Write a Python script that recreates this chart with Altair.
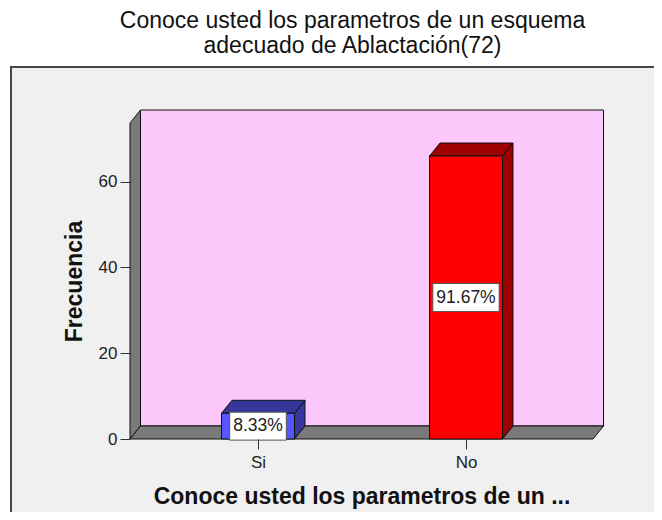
import json
import altair as alt
import pandas as pd

# ---------------- data ----------------
categories = ["Si", "No"]
counts = [6, 66]
percent_labels = ["8.33%", "91.67%"]
y_ticks = [0, 20, 40, 60]

title_lines = ["Conoce usted los parametros de un esquema", "adecuado de Ablactación(72)"]
x_title = "Conoce usted los parametros de un ..."
y_title = "Frecuencia"

# ---------------- styles ----------------
front_colors = ["#5656ff", "#ff0000"]
dark_colors = ["#35369c", "#9c0000"]
wall_color = "#7a7a7a"
back_color = "#fcc8fc"
FONT = "Liberation Sans"

# ---------------- geometry ----------------
W, H = 463, 316
Y_MAX = 73.7
PX_PER_Y = H / Y_MAX
STEP = 208.0                      # px between category centres
X_MIN = -128.0 / STEP
X_MAX = X_MIN + W / STEP
DX, DY = 10.5, 13.0               # 3-D depth in px
dxu, dyu = DX / STEP, DY / PX_PER_Y
HALF = 36.5 / STEP                # half bar width
LBL_FS = 17.5
BOX_H = 14.0 / PX_PER_Y

xs = alt.Scale(domain=[X_MIN, X_MAX], nice=False, zero=False)
ys = alt.Scale(domain=[0, Y_MAX], nice=False, zero=False)

x_axis = alt.Axis(values=[0, 1], labelExpr=f"{json.dumps(categories)}[datum.value]",
                  title=x_title, domain=False, grid=False, tickSize=10, tickColor="#333333",
                  labelFont=FONT, labelFontSize=17, labelColor="#222222", labelPadding=5,
                  labelOverlap=False, titleFont=FONT, titleFontSize=23, titleFontWeight="bold",
                  titleColor="#111111", titlePadding=15, zindex=1)
y_axis = alt.Axis(values=y_ticks, title=y_title, domain=False, grid=False, tickSize=10,
                  tickColor="#333333", labelFont=FONT, labelFontSize=17, labelColor="#222222",
                  labelPadding=3, titleFont=FONT, titleFontSize=23, titleFontWeight="bold",
                  titleColor="#111111", titlePadding=12, zindex=1)

X = alt.X("x:Q", scale=xs, axis=x_axis)
X2 = alt.X2("x2:Q")
Y = alt.Y("y:Q", scale=ys, axis=y_axis)
Y2 = alt.Y2("y2:Q")

one = pd.DataFrame({"a": [0]})

frame = alt.Chart(one).mark_rect(fill="#f0f0f0", stroke="#474747", strokeWidth=2).encode(
    x=alt.value(-119), x2=alt.value(W + 300), y=alt.value(-56), y2=alt.value(H + 300))

back = alt.Chart(one).mark_rect(fill=back_color, stroke="#111111", strokeWidth=1).encode(
    x=alt.value(DX), x2=alt.value(W + DX), y=alt.value(-DY), y2=alt.value(H - DY))

left_wall_df = pd.DataFrame({"x": [X_MIN, X_MIN + dxu], "y": [Y_MAX, Y_MAX + dyu], "y2": [0, dyu]})
left_wall = alt.Chart(left_wall_df).mark_area(orient="vertical", fill=wall_color, stroke="#111111",
                                              strokeWidth=1, opacity=1).encode(x=X, y=Y, y2=Y2)

floor_df = pd.DataFrame({"y": [0, dyu], "x": [X_MIN, X_MIN + dxu], "x2": [X_MAX, X_MAX + dxu]})
floor = alt.Chart(floor_df).mark_area(orient="horizontal", fill=wall_color, stroke="#111111",
                                      strokeWidth=1, opacity=1).encode(y=Y, x=X, x2=X2)

side_rows, top_rows, front_rows, box_rows = [], [], [], []
for i, (c, v, lab) in enumerate(zip(categories, counts, percent_labels)):
    side_rows += [{"cat": c, "x": i + HALF, "y": v, "y2": 0, "fill": dark_colors[i]},
                  {"cat": c, "x": i + HALF + dxu, "y": v + dyu, "y2": dyu, "fill": dark_colors[i]}]
    top_rows += [{"cat": c, "y": v, "x": i - HALF, "x2": i + HALF, "fill": dark_colors[i]},
                 {"cat": c, "y": v + dyu, "x": i - HALF + dxu, "x2": i + HALF + dxu, "fill": dark_colors[i]}]
    front_rows.append({"cat": c, "x": i - HALF, "x2": i + HALF, "y": 0, "y2": v, "fill": front_colors[i]})
    tw = sum(0.556 if ch.isdigit() else (0.889 if ch == "%" else 0.278) for ch in lab) * LBL_FS
    bw = (tw + 7) / 2 / STEP
    box_rows.append({"cat": c, "label": lab, "x": i - bw, "x2": i + bw, "xc": i,
                     "y": v / 2 - BOX_H, "y2": v / 2 + BOX_H, "yc": v / 2})

side = alt.Chart(pd.DataFrame(side_rows)).mark_area(orient="vertical", stroke="#111111", strokeWidth=1,
                                                    opacity=1).encode(
    x=X, y=Y, y2=Y2, fill=alt.Fill("fill:N", scale=None), detail="cat:N")
top = alt.Chart(pd.DataFrame(top_rows)).mark_area(orient="horizontal", stroke="#111111", strokeWidth=1,
                                                  opacity=1).encode(
    y=Y, x=X, x2=X2, fill=alt.Fill("fill:N", scale=None), detail="cat:N")
front = alt.Chart(pd.DataFrame(front_rows)).mark_rect(stroke="#111111", strokeWidth=1).encode(
    x=X, x2=X2, y=Y, y2=Y2, fill=alt.Fill("fill:N", scale=None))

boxdf = pd.DataFrame(box_rows)
boxes = alt.Chart(boxdf).mark_rect(fill="white", stroke="#555555", strokeWidth=1).encode(
    x=X, x2=X2, y=Y, y2=Y2)
texts = alt.Chart(boxdf).mark_text(font=FONT, fontSize=LBL_FS, color="#222222",
                                   baseline="middle", align="center").encode(
    x=alt.X("xc:Q", scale=xs, axis=x_axis), y=alt.Y("yc:Q", scale=ys, axis=y_axis), text="label:N")

chart = alt.layer(frame, back, left_wall, floor, side, top, front, boxes, texts).properties(
    width=W, height=H,
    title=alt.TitleParams(title_lines, font=FONT, fontSize=23, fontWeight="normal", color="#111111",
                          anchor="middle", frame="group", offset=8, lineHeight=25, dx=-9),
    autosize=alt.AutoSizeParams(type="none"),
    padding={"left": 122, "top": 115, "right": 61, "bottom": 73},
).configure(background="white").configure_view(stroke=None)

chart.save("out.html", embed_options={"renderer": "svg", "actions": False})
